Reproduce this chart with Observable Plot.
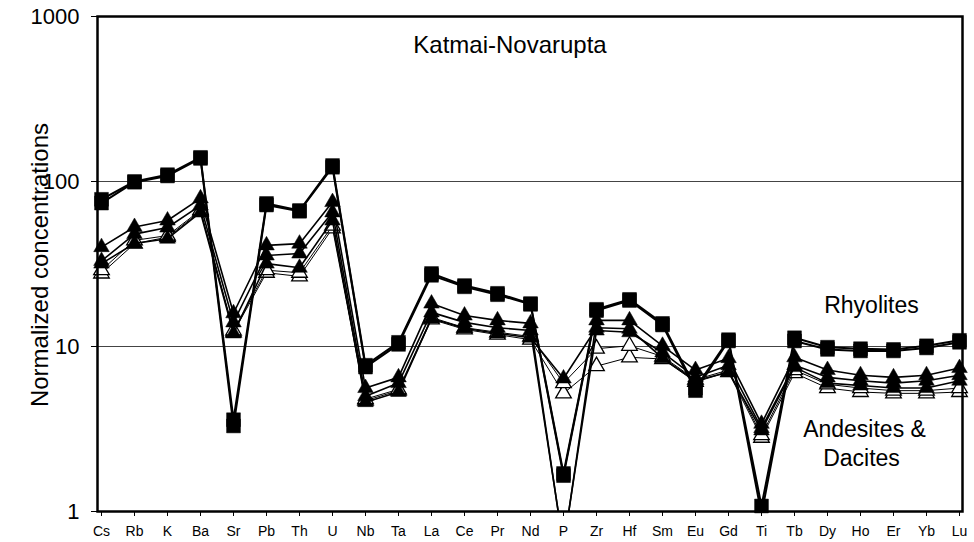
<!DOCTYPE html>
<html>
<head>
<meta charset="utf-8">
<script src="https://cdn.jsdelivr.net/npm/d3@7"></script>
<script src="https://cdn.jsdelivr.net/npm/@observablehq/plot@0.6"></script>
<style>
  html, body { margin: 0; padding: 0; background: #fff; }
  #chart { width: 974px; height: 542px; }
  svg { font-family: "Liberation Sans", Arial, sans-serif; }
</style>
</head>
<body>
<div id="chart"></div>
<script>
const elements = ["Cs","Rb","K","Ba","Sr","Pb","Th","U","Nb","Ta","La","Ce","Pr","Nd","P","Zr","Hf","Sm","Eu","Gd","Ti","Tb","Dy","Ho","Er","Yb","Lu"];

// Rhyolites (filled squares)
const rhyolite1 = [78,100,110,140,3.6,73.6,66.7,125,7.7,10.6,27.7,23.4,21,18.2,1.7,16.8,19.3,13.8,5.6,11.0,1.08,11.3,9.9,9.7,9.6,10.1,10.9];
const rhyolite2 = [74,99,108,138,3.3,72,66,122,7.5,10.3,27,23,20.6,18,1.65,16.5,19,13.5,5.4,10.8,0.96,10.8,9.6,9.4,9.4,9.8,10.6];
// Andesites & dacites (filled triangles)
const andesite1 = [40,53,58,79,15.9,41,42,75,5.6,6.5,18.2,15.4,14.4,13.8,0.6,14.4,14.4,10.1,7.2,8.5,3.4,8.6,7.2,6.7,6.5,6.7,7.4];
const andesite2 = [33,48,52.6,71.6,14,35.6,36.6,65,5.0,6.0,16.1,14,13,12.5,0.62,12.5,12.2,9.2,6.5,7.7,3.2,7.7,6.5,6.2,6.0,6.2,6.7];
const andesite3 = [31.8,42.1,45,64.9,12,31.8,30,58,4.6,5.3,14.8,12.9,12,11.3,6.4,13.0,12.8,8.5,6.2,7.0,3.1,7.5,6.0,5.8,5.6,5.6,6.2];
// Dacites (open triangles)
const dacite1 = [29,44,47,67,12.5,29,28,54,4.8,5.5,15,13,12.2,11.5,6.0,9.7,10.1,8.7,6.3,7.2,2.9,7.2,5.9,5.6,5.4,5.4,5.6];
const dacite2 = [27.7,42,46,66,12.2,28,26.6,52,4.7,5.4,14.6,12.7,11.8,11.0,5.2,7.6,8.6,8.4,6.1,7.0,2.8,6.9,5.6,5.3,5.2,5.2,5.3];

const yTicks = [1, 10, 100, 1000];
const gridValues = [10, 100];

const seriesDefs = [
  {name: "dacite2", values: dacite2, symbol: "triangle", fill: "white", lineWidth: 1, r: 5.8},
  {name: "dacite1", values: dacite1, symbol: "triangle", fill: "white", lineWidth: 1, r: 5.8},
  {name: "andesite3", values: andesite3, symbol: "triangle", fill: "black", lineWidth: 1.6, r: 5.8},
  {name: "andesite2", values: andesite2, symbol: "triangle", fill: "black", lineWidth: 1.6, r: 5.8},
  {name: "andesite1", values: andesite1, symbol: "triangle", fill: "black", lineWidth: 1.6, r: 5.8},
  {name: "rhyolite2", values: rhyolite2, symbol: "square", fill: "black", lineWidth: 2, r: 7.8},
  {name: "rhyolite1", values: rhyolite1, symbol: "square", fill: "black", lineWidth: 2, r: 7.8}
];

const marks = [
  Plot.ruleY(gridValues, {stroke: "#444", strokeWidth: 1})
];
for (const s of seriesDefs) {
  const rows = elements.map((e, i) => ({element: e, value: s.values[i]}));
  marks.push(Plot.line(rows, {x: "element", y: "value", stroke: "black", strokeWidth: s.lineWidth, clip: true}));
  marks.push(Plot.dot(rows.filter(d => d.value >= 1), {x: "element", y: "value", symbol: s.symbol, r: s.r, fill: s.fill, stroke: "black", strokeWidth: s.fill === "white" ? 1.3 : 0.5}));
}
marks.push(
  Plot.frame({stroke: "black", strokeWidth: 2.5}),
  Plot.axisY({ticks: yTicks, tickFormat: d => String(d), tickSize: 6, tickPadding: 12, fontSize: 22, label: null}),
  Plot.axisX({tickSize: 5, tickPadding: 10, fontSize: 14, label: null}),
  Plot.text(["Normalized concentrations"], {frameAnchor: "left", textAnchor: "middle", rotate: -90, dx: -57, dy: 1, fontSize: 24, fill: "black"}),
  Plot.text(["Katmai-Novarupta"], {frameAnchor: "top", textAnchor: "middle", lineAnchor: "middle", dx: -20, dy: 29, fontSize: 24, fill: "black"}),
  Plot.text(["Rhyolites"], {frameAnchor: "right", textAnchor: "middle", dx: -91, dy: 42, fontSize: 23, fill: "black"}),
  Plot.text(["Andesites &"], {frameAnchor: "right", textAnchor: "middle", dx: -98, dy: 166, fontSize: 23, fill: "black"}),
  Plot.text(["Dacites"], {frameAnchor: "right", textAnchor: "middle", dx: -101, dy: 195, fontSize: 23, fill: "black"})
);

const chart = Plot.plot({
  width: 974,
  height: 542,
  marginLeft: 97,
  marginRight: 12,
  marginTop: 16,
  marginBottom: 31,
  style: {fontFamily: "'Liberation Sans', Arial, sans-serif", color: "black", background: "white"},
  x: {type: "point", domain: elements, padding: 0},
  y: {type: "log", domain: [1, 1000]},
  marks
});
document.getElementById("chart").appendChild(chart);
</script>
</body>
</html>
